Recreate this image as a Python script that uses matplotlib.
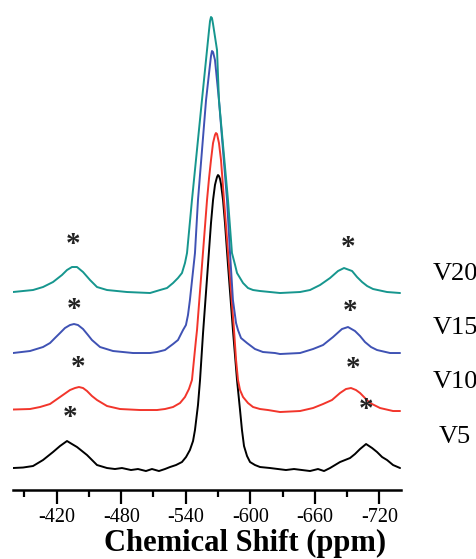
import numpy as np
import matplotlib
matplotlib.use("Agg")
from matplotlib import pyplot as plt

# spectra: chemical shift (ppm) and height above own baseline
v5_ppm = [-379.4, -388.7, -398, -407.3, -416.6, -423.1, -429.6, -434.2, -438.9, -448.2,
          -457.5, -466.8, -474.2, -480.7, -489.1, -495.6, -503, -508.6, -515.1, -520.7,
          -525.4, -531, -536.5, -540.3, -543.9, -546.8, -548.6, -551.4, -553.3, -556.1,
          -560.7, -563.5, -565.4, -567.2, -568.1, -569.1, -570, -570.9, -571.9, -572.8,
          -574.7, -576.5, -579.3, -583.9, -587.7, -590.5, -592.3, -594.2, -597, -599.8,
          -604.4, -609.1, -618.4, -625.8, -633.2, -640.7, -648.1, -655.6, -663, -668.6,
          -674.2, -683.5, -692.8, -697.4, -702.1, -707.7, -713.3, -717.9, -722.6, -727.2,
          -732.8, -739.3]
v5_int = [0, 0.5, 2, 8, 16, 22, 27, 24, 21, 13,
          3, 0, -1, 0, -2, -1, -3, -1, -3, -1,
          1, 3, 6, 11, 18, 27, 38, 63, 88, 135,
          203, 245, 268, 283, 287, 291, 293, 292, 289, 284,
          268, 245, 203, 138, 88, 58, 38, 22, 12, 6,
          3, 1, 0, -1, -2, -1, -2, -3, -1, -3,
          0, 6, 10, 14, 19, 24, 20, 16, 11, 8,
          3, 0]

v10_ppm = [-379.4, -395.2, -404.5, -413.8, -423.1, -432.4, -437, -440.7, -444.5, -448.2,
           -452.8, -457.5, -466.8, -478.9, -497.5, -513.3, -520.7, -528.2, -534.7, -539.3,
           -543, -545.8, -549.5, -550.5, -559.8, -561.7, -563.5, -565.4, -567.2, -568.1,
           -569.1, -570.9, -572.8, -575.6, -584.9, -586.8, -588.6, -590.5, -593.3, -597.9,
           -602.6, -609.1, -616.5, -627.7, -646.3, -658.4, -667.7, -676, -683.5, -689,
           -693.7, -698.3, -702.1, -706.7, -711.4, -720.7, -732.8, -739.3]
v10_int = [0.5, 1, 3, 6, 13, 20, 22, 23, 22, 19,
           14, 10, 4, 1, 0, 0, 1, 3, 7, 13,
           21, 30, 70, 80, 210, 232, 250, 267, 275, 277,
           276, 267, 250, 210, 80, 50, 30, 20, 13, 7,
           3, 1, 0, -2, -1, 2, 6, 10, 17, 21,
           22, 20, 17, 12, 7, 2, -1, -1]

v15_ppm = [-379.4, -395.2, -407.3, -413.8, -418.4, -423.1, -427.7, -432.4, -436.1, -439.8,
           -444.5, -449.1, -452.8, -460.3, -472.4, -491, -506.8, -513.3, -520.7, -528.2,
           -532.8, -537.5, -540.2, -542.1, -543.9, -548.6, -551.4, -558.9, -561.7, -563.5,
           -564.4, -565.4, -567.2, -570.9, -578.4, -581.2, -583.9, -586.8, -588.6, -591.4,
           -597, -604.4, -611.8, -623, -627.7, -646.3, -658.4, -667.7, -677, -685.3,
           -690.9, -697.4, -702.1, -706.7, -712.3, -717.9, -730, -739.3]
v15_int = [0, 2, 6, 10, 15, 20, 25, 28, 29, 28,
           24, 18, 13, 6, 2, 0, 0, 1, 3, 9,
           13, 23, 28, 38, 53, 100, 153, 253, 280, 297,
           302, 301, 293, 253, 153, 100, 53, 30, 23, 15,
           10, 4, 1, 0, -1, 0, 4, 8, 16, 24,
           26, 22, 17, 11, 6, 3, 0, 0]

v20_ppm = [-379.4, -398, -407.3, -416.6, -424.9, -429.6, -434.2, -438.9, -444.5, -451,
           -457.5, -466.8, -485.4, -506.8, -516.1, -522.6, -528.2, -532.8, -536.5, -539.3,
           -541.2, -545.8, -555.1, -559.8, -561.7, -562.6, -563.5, -564.4, -565.4, -569.1,
           -570.9, -579.3, -583, -585.9, -587.7, -593.3, -597.9, -602.6, -609.1, -618.4,
           -627.7, -646.3, -655.6, -664.9, -674.2, -681.6, -687.2, -694.7, -699.3, -704,
           -708.7, -714.2, -727.2, -739.3]
v20_int = [0, 2, 5, 10, 17, 22, 25, 25, 20, 12,
           5, 2, 0, -1, 2, 4, 9, 14, 19, 29,
           39, 92, 192, 242, 262, 271, 275, 274, 268, 242,
           192, 92, 39, 27, 19, 9, 4, 2, 1, 0,
           -1, 0, 2, 7, 14, 21, 24, 21, 15, 10,
           6, 3, 0, -1]

names = ["V5", "V10", "V15", "V20"]
baselines = [22, 80, 137, 198]
colors = ["black", "#f2352b", "#3f52b4", "#16968e"]
label_y = [53, 108, 162, 216]

# spinning sideband markers (ppm, height)
star_ppm = [-435.2, -690.9, -436.1, -692.8, -439.8, -695.6, -432.4, -707.7]
star_y = [250, 247, 185, 183, 127, 126, 77, 85]

plt.rcParams['font.family'] = ['Liberation Serif', 'DejaVu Serif']
plt.rcParams['axes.unicode_minus'] = False

fig = plt.figure(figsize=(4.77, 5.59), dpi=100)
ax = fig.add_axes([0.0273, 0.1234, 0.8134, 0.8587])

spectra = [(v5_ppm, v5_int), (v10_ppm, v10_int), (v15_ppm, v15_int), (v20_ppm, v20_int)]
for (ppm, inten), base, c in zip(spectra, baselines, colors):
    ax.plot(ppm, np.array(inten) + base, color=c, lw=1.4,
            solid_joinstyle="round", solid_capstyle="round")

for x, y in zip(star_ppm, star_y):
    ax.text(x, y - 4, "*", fontsize=21, fontweight="bold", ha="center", va="center",
            color="#222222")

for n, y in zip(names, label_y):
    ax.text(-790.5, y, n, fontsize=19, ha="center", va="center", clip_on=False)

ax.set_xlim(-379.4, -740.2)
ax.set_ylim(0, 480)
ax.set_xticks([-420, -480, -540, -600, -660, -720])
ax.set_xticks([-390, -450, -510, -570, -630, -690], minor=True)
ax.tick_params(axis="x", which="major", length=10, width=1.6, labelsize=14.5, direction="out", pad=3)
ax.tick_params(axis="x", which="minor", length=5, width=1.6, direction="out")
ax.set_yticks([])
for s in ["left", "right", "top"]:
    ax.spines[s].set_visible(False)
ax.spines["bottom"].set_linewidth(1.8)
fig.text(0.514, 0.0145, "Chemical Shift (ppm)", fontsize=22, fontweight="bold",
         ha="center", va="baseline")

fig.savefig("out.png", dpi=100)
